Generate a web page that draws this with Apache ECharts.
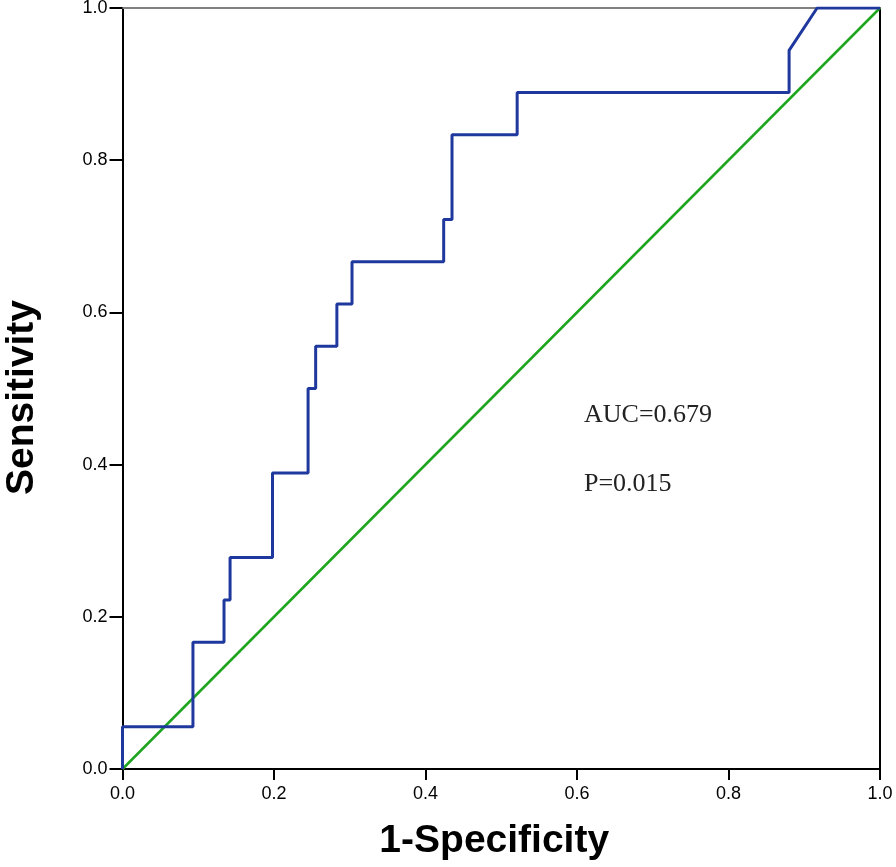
<!DOCTYPE html>
<html>
<head>
<meta charset="utf-8">
<script src="https://cdn.jsdelivr.net/npm/echarts@6/dist/echarts.min.js"></script>
<style>html,body{margin:0;padding:0;background:#fff}#c{width:896px;height:867px}</style>
</head>
<body>
<div id="c"></div>
<script>
// ROC curve points (1-Specificity, Sensitivity)
const fpr = [0, 0, 0.093, 0.093, 0.134, 0.134, 0.142, 0.142, 0.198, 0.198, 0.245, 0.245, 0.255, 0.255, 0.283, 0.283, 0.303, 0.303, 0.424, 0.424, 0.435, 0.435, 0.521, 0.521, 0.880, 0.880, 0.917, 1.0];
const tpr = [0, 0.0556, 0.0556, 0.1667, 0.1667, 0.2222, 0.2222, 0.2778, 0.2778, 0.3889, 0.3889, 0.5, 0.5, 0.5556, 0.5556, 0.6111, 0.6111, 0.6667, 0.6667, 0.7222, 0.7222, 0.8333, 0.8333, 0.8889, 0.8889, 0.9444, 1.0, 1.0];
const refX = [0, 1];
const refY = [0, 1];
const tickLabels = ['0.0', '0.2', '0.4', '0.6', '0.8', '1.0'];
const annotations = ['AUC=0.679', 'P=0.015'];

const chart = echarts.init(document.getElementById('c'));
const fmt = v => tickLabels[Math.round(v * 5)];
chart.setOption({
  animation: false,
  backgroundColor: '#fff',
  grid: { left: 122.5, right: 16, top: 8, bottom: 98, containLabel: false, outerBoundsMode: 'none' },
  xAxis: [{
    type: 'value', min: 0, max: 1, interval: 0.2,
    name: '1-Specificity', nameLocation: 'middle', nameGap: 53,
    nameTextStyle: { fontFamily: 'Liberation Sans', fontWeight: 'bold', fontSize: 39, color: '#000', padding: [0, 14, 0, 0] },
    axisLine: { onZero: false, lineStyle: { color: '#000', width: 2 } },
    axisTick: { show: true, length: 11, lineStyle: { color: '#000', width: 2 } },
    axisLabel: { margin: 16, fontFamily: 'Liberation Sans', fontSize: 18, color: '#000', formatter: fmt },
    splitLine: { show: false }
  }, {
    type: 'value', min: 0, max: 1, position: 'top',
    axisLine: { show: true, onZero: false, lineStyle: { color: '#808080', width: 2 } },
    axisTick: { show: false }, axisLabel: { show: false }, splitLine: { show: false }
  }],
  yAxis: [{
    type: 'value', min: 0, max: 1, interval: 0.2,
    name: 'Sensitivity', nameLocation: 'middle', nameGap: 81,
    nameTextStyle: { fontFamily: 'Liberation Sans', fontWeight: 'bold', fontSize: 39, color: '#000', padding: [0, 18, 0, 0] },
    axisLine: { show: true, onZero: false, lineStyle: { color: '#000', width: 2 } },
    axisTick: { show: true, length: 13, lineStyle: { color: '#000', width: 2 } },
    axisLabel: { margin: 15, fontFamily: 'Liberation Sans', fontSize: 18, color: '#000', formatter: fmt },
    splitLine: { show: false }
  }, {
    type: 'value', min: 0, max: 1, position: 'right',
    axisLine: { show: true, onZero: false, lineStyle: { color: '#000', width: 2 } },
    axisTick: { show: false }, axisLabel: { show: false }, splitLine: { show: false }
  }],
  series: [{
    type: 'line', data: refX.map((x, i) => [x, refY[i]]),
    symbol: 'none', lineStyle: { color: '#1ea51e', width: 2.5 }, z: 2
  }, {
    type: 'line', data: fpr.map((x, i) => [x, tpr[i]]),
    symbol: 'none', lineStyle: { color: '#1f389e', width: 3 }, z: 3
  }],
  graphic: [
    { type: 'text', left: 584, top: 402, style: { text: annotations[0], font: '26px "Liberation Serif", serif', fill: '#222' } },
    { type: 'text', left: 584, top: 471, style: { text: annotations[1], font: '26px "Liberation Serif", serif', fill: '#222' } }
  ]
});
</script>
</body>
</html>
